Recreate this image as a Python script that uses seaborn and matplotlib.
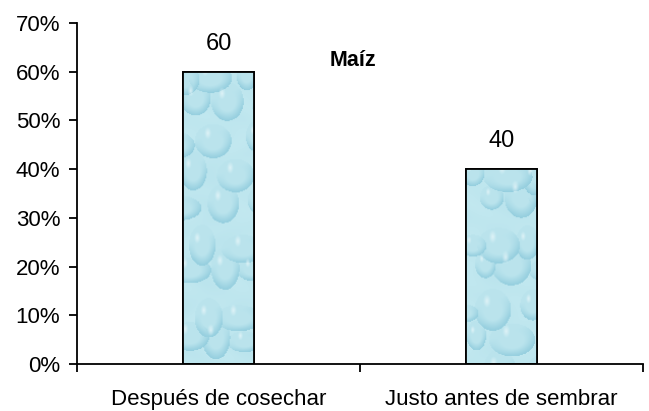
import numpy as np
import pandas as pd
import matplotlib
matplotlib.use("Agg")
import matplotlib.pyplot as plt
import seaborn as sns
from matplotlib.ticker import FixedLocator, PercentFormatter

# Chart data
categories = ["Después de cosechar", "Justo antes de sembrar"]
values = [60, 40]
title_text = "Maíz"
y_ticks = [0, 10, 20, 30, 40, 50, 60, 70]

sns.set_theme(style="white")
plt.rcParams["font.family"] = ["Liberation Sans", "DejaVu Sans"]

df = pd.DataFrame({"momento": categories, "porcentaje": values})

fig = plt.figure(figsize=(6.49, 4.11), dpi=100)
ax = fig.add_axes([77 / 649, (411 - 364) / 411, (643 - 77) / 649, (364 - 23) / 411])

sns.barplot(data=df, x="momento", y="porcentaje", ax=ax, width=0.25,
            color="#b4e2eb", edgecolor="black", linewidth=1.3, saturation=1)


def droplet_texture(h, w, phase):
    """Soft light-blue water-droplet texture built from overlapping shaded blobs."""
    yy, xx = np.mgrid[0:h, 0:w].astype(float)
    base = np.array([0.76, 0.91, 0.94])
    dark = np.array([0.55, 0.79, 0.86])
    light = np.array([0.92, 0.97, 0.98])
    # gentle low-frequency ripple in the background tint
    ripple = 0.5 + 0.5 * np.sin(xx / 9.0 + np.sin(yy / 13.0) * 2.0) * np.cos(yy / 11.0)
    shade = 0.12 * ripple
    glint = np.zeros((h, w))
    step = 34.0
    rows = int(h / step) + 2
    cols = int(w / step) + 2
    for i in range(rows):
        for j in range(cols):
            k = i * 7 + j * 3 + phase
            cx = j * step + (step / 2 if i % 2 else 0) + 8 * np.sin(k * 1.7)
            cy = i * step + 8 * np.cos(k * 2.3)
            r = 12 + 8 * (0.5 + 0.5 * np.sin(k * 0.9))
            ex = 1.0 + 0.25 * np.sin(k * 1.3)
            d = np.hypot((xx - cx) * ex, (yy - cy) / ex) / r
            inside = d < 1
            rim = np.clip((d - 0.5) / 0.5, 0, 1) * inside
            lower = np.clip(((yy - cy) + (xx - cx) * 0.4) / r + 0.5, 0, 1.2)
            shade = np.maximum(shade, rim * lower * 0.6 + inside * 0.14)
            g = np.hypot((xx - (cx - 0.3 * r)) * 1.8, yy - (cy - 0.45 * r)) / (0.35 * r)
            glint = np.maximum(glint, np.clip(1 - g, 0, 1) * 0.75)
    shade = np.clip(shade, 0, 1)[..., None]
    glint = np.clip(glint, 0, 1)[..., None]
    img = base * (1 - shade) + dark * shade
    img = img * (1 - glint) + light * glint
    return np.clip(img, 0, 1)


for n, patch in enumerate(ax.patches):
    x0, y0 = patch.get_x(), patch.get_y()
    w, h = patch.get_width(), patch.get_height()
    tex = droplet_texture(int(h * 4.87), 70, n * 5)
    im = ax.imshow(tex, extent=(x0, x0 + w, y0, y0 + h), origin="upper",
                   aspect="auto", zorder=patch.get_zorder() + 0.1,
                   interpolation="bilinear")
    im.set_clip_path(patch)
    outline = plt.Rectangle((x0, y0), w, h, fill=False, edgecolor="black",
                            linewidth=1.3, zorder=patch.get_zorder() + 0.2)
    ax.add_patch(outline)
    ax.annotate(f"{values[n]}", (x0 + w / 2, y0 + h), xytext=(0, 12),
                textcoords="offset points", ha="center", va="bottom",
                fontsize=17, color="black")

ax.set_xlim(-0.5, 1.5)
ax.set_ylim(0, 70)
ax.yaxis.set_major_locator(FixedLocator(y_ticks))
ax.yaxis.set_major_formatter(PercentFormatter(decimals=0))
ax.set_xlabel("")
ax.set_ylabel("")

ax.text(0.475, 62.3, title_text, ha="center", va="center",
        fontsize=15.5, fontweight="bold", color="black")

for side in ["top", "right"]:
    ax.spines[side].set_visible(False)
for side in ["left", "bottom"]:
    ax.spines[side].set_color("black")
    ax.spines[side].set_linewidth(1.3)

ax.xaxis.set_minor_locator(FixedLocator([-0.5, 0.5, 1.5]))
ax.tick_params(axis="x", which="major", length=0, pad=18, labelsize=16,
               colors="black")
ax.tick_params(axis="x", which="minor", bottom=True, length=6, width=1.3,
               direction="out", color="black")
ax.tick_params(axis="y", which="major", left=True, length=6, width=1.3,
               direction="out", pad=6, labelsize=16, colors="black")
ax.grid(False)

fig.savefig("out.png", dpi=100)
